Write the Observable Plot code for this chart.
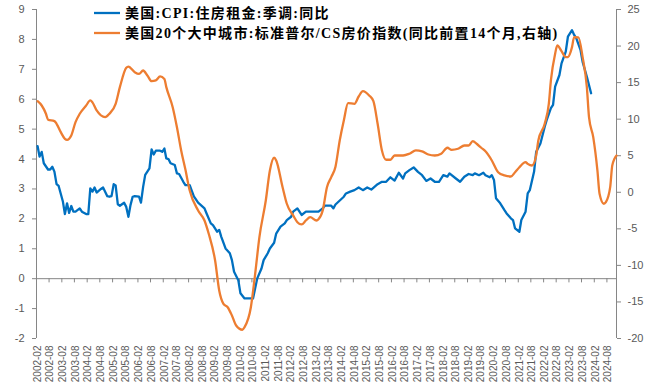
<!DOCTYPE html>
<html><head><meta charset="utf-8">
<script src="https://cdn.jsdelivr.net/npm/d3@7"></script>
<script src="https://cdn.jsdelivr.net/npm/@observablehq/plot@0.6"></script>
<style>body{margin:0;background:#fff} svg{display:block}</style>
</head><body><div id="chart"></div>
<script>
const seriesNames = ["美国:CPI:住房租金:季调:同比", "美国20个大中城市:标准普尔/CS房价指数(同比前置14个月,右轴)"];
const seriesColors = ["#0070C0", "#ED7D31"];

const rentDates = ["2002-02","2002-03","2002-04","2002-05","2002-07","2002-08","2002-09","2002-10","2002-11","2002-12",
"2003-02","2003-03","2003-04","2003-05","2003-06","2003-07","2003-08","2003-10","2003-11","2004-01","2004-02","2004-03","2004-04","2004-05","2004-06","2004-08","2004-09","2004-11","2004-12",
"2005-01","2005-02","2005-03","2005-04","2005-05","2005-07","2005-08","2005-09","2005-10","2005-11","2005-12",
"2006-02","2006-03","2006-04","2006-05","2006-07","2006-08","2006-09","2006-10","2006-12",
"2007-01","2007-02","2007-03","2007-04","2007-05","2007-07","2007-08","2007-09","2007-11","2007-12",
"2008-01","2008-02","2008-03","2008-04","2008-06","2008-09","2008-10","2008-12",
"2009-01","2009-03","2009-04","2009-05","2009-07","2009-09","2009-10","2009-11",
"2010-01","2010-02","2010-04","2010-06","2010-08","2010-09","2010-10","2010-12",
"2011-01","2011-03","2011-04","2011-06","2011-07","2011-09","2011-11","2011-12",
"2012-02","2012-03","2012-05","2012-07","2012-09","2012-12","2013-03","2013-05","2013-06","2013-09","2013-10","2013-11",
"2014-03","2014-04","2014-06","2014-08","2014-10","2014-12","2015-02","2015-04","2015-07","2015-09","2015-11",
"2016-01","2016-03","2016-05","2016-07","2016-08","2016-10","2016-12","2017-02","2017-04","2017-06","2017-08","2017-10","2017-12",
"2018-02","2018-04","2018-05","2018-08","2018-10","2018-12","2019-02","2019-04","2019-05","2019-07","2019-09","2019-10","2019-12",
"2020-01","2020-02","2020-03","2020-05","2020-07","2020-08","2020-10","2020-11","2020-12",
"2021-02","2021-03","2021-05","2021-06","2021-07","2021-09","2021-10","2021-12",
"2022-02","2022-03","2022-05","2022-06","2022-07","2022-09","2022-10","2022-12",
"2023-01","2023-03","2023-04","2023-05","2023-07","2023-08","2023-10","2023-12"];
const rentValues = [4.43,4.08,4.24,3.86,3.65,3.65,3.74,3.58,3.16,3.10,
2.57,2.16,2.52,2.20,2.43,2.24,2.24,2.35,2.24,2.16,2.16,3.02,2.91,3.05,2.88,3.00,3.05,2.76,2.74,
2.76,3.16,3.12,2.49,2.44,2.54,2.40,2.07,2.46,2.74,2.76,
2.74,2.54,3.07,3.47,3.69,4.32,4.15,4.28,4.28,
4.24,4.35,4.02,4.00,3.86,3.80,3.52,3.50,3.24,3.13,
3.13,3.13,2.94,2.75,2.54,2.35,2.18,1.85,
1.79,1.57,1.63,1.40,1.01,0.85,0.62,0.23,
-0.05,-0.49,-0.66,-0.66,-0.66,-0.32,0.01,0.34,
0.62,0.85,1.01,1.20,1.51,1.74,1.85,1.96,
2.07,2.24,2.35,2.13,2.24,2.24,2.24,2.35,2.44,2.44,2.35,2.48,
2.74,2.85,2.91,2.96,3.05,2.96,3.05,2.98,3.16,3.24,3.24,
3.39,3.28,3.54,3.35,3.52,3.63,3.72,3.57,3.46,3.27,3.35,3.24,3.24,
3.46,3.41,3.52,3.35,3.24,3.41,3.50,3.46,3.52,3.46,3.54,3.46,3.39,
3.46,3.30,2.69,2.52,2.29,2.18,2.02,1.96,1.68,
1.57,1.96,2.24,2.85,2.96,3.58,4.24,4.52,
5.08,5.30,5.70,5.81,6.42,6.81,7.20,7.59,
8.09,8.31,8.15,8.04,7.65,7.25,6.75,6.20];

const hpiDates = ["2002-02","2002-04","2002-06","2002-07","2002-10","2002-11","2003-01","2003-03","2003-04","2003-06","2003-08","2003-10",
"2004-01","2004-03","2004-04","2004-06","2004-10","2004-12","2005-03","2005-05","2005-08","2005-09","2005-12",
"2006-02","2006-04","2006-06","2006-08","2006-10","2006-12","2007-02","2007-03","2007-06","2007-08","2007-10","2007-12",
"2008-02","2008-06","2008-09","2008-11","2009-02","2009-04","2009-06","2009-08","2009-10","2009-12",
"2010-03","2010-04","2010-07","2010-09","2010-11","2011-02","2011-04","2011-06","2011-07","2011-10","2011-12",
"2012-03","2012-05","2012-07","2012-09","2012-11","2013-02","2013-03","2013-05","2013-07","2013-09","2013-11",
"2014-01","2014-03","2014-05","2014-08","2014-10","2014-12","2015-03","2015-05","2015-07","2015-09","2015-11",
"2016-01","2016-03","2016-07","2016-10","2017-01","2017-04","2017-07","2017-10","2018-01","2018-04","2018-06","2018-09","2018-12",
"2019-02","2019-04","2019-06","2019-08","2019-10","2020-01","2020-04","2020-07","2020-10","2020-12",
"2021-02","2021-05","2021-06","2021-08","2021-10","2021-11","2022-02","2022-04","2022-05","2022-07","2022-08","2022-10","2022-12",
"2023-01","2023-03","2023-04","2023-06","2023-08","2023-10","2023-11","2024-01","2024-03","2024-04","2024-06","2024-07","2024-09","2024-10","2024-12"];
const hpiValues = [12.46,11.87,10.74,9.92,9.73,9.37,8.22,7.32,7.18,7.77,9.59,10.74,
11.87,12.56,12.30,11.19,10.27,10.74,12.10,14.38,17.03,17.20,16.43,
16.20,16.66,15.98,15.20,15.30,15.84,15.50,14.38,11.64,8.90,5.72,3.10,
0.25,-2.49,-3.86,-5.68,-9.33,-13.43,-15.25,-15.72,-16.85,-18.22,
-18.80,-18.45,-15.72,-11.15,-6.14,-1.12,2.98,4.72,4.35,0.70,-1.57,
-3.17,-4.09,-4.40,-3.86,-3.40,-3.86,-3.70,-2.49,0.70,2.07,3.50,
7.09,9.82,12.19,12.10,13.10,13.83,13.24,12.46,9.37,5.72,4.45,
4.45,5.03,5.03,5.27,5.72,5.60,5.17,5.03,5.27,6.09,5.80,5.95,6.40,
6.40,7.00,6.60,6.09,5.60,4.35,2.75,2.30,2.16,2.75,
3.43,4.12,3.89,3.66,5.03,7.09,9.37,12.10,15.29,18.95,20.08,19.30,18.48,
18.50,19.85,21.22,21.20,18.48,14.38,10.27,7.54,2.98,-0.20,-1.57,-1.35,0.70,3.66,5.03];

const xTickLabels = ["2002-02","2002-08","2003-02","2003-08","2004-02","2004-08","2005-02","2005-08","2006-02","2006-08",
"2007-02","2007-08","2008-02","2008-08","2009-02","2009-08","2010-02","2010-08","2011-02","2011-08",
"2012-02","2012-08","2013-02","2013-08","2014-02","2014-08","2015-02","2015-08","2016-02","2016-08",
"2017-02","2017-08","2018-02","2018-08","2019-02","2019-08","2020-02","2020-08","2021-02","2021-08",
"2022-02","2022-08","2023-02","2023-08","2024-02","2024-08"];
const leftTicks = [-2,-1,0,1,2,3,4,5,6,7,8,9];
const rightTicks = [-20,-15,-10,-5,0,5,10,15,20,25];

const parse = d3.utcParse("%Y-%m");
const L0 = -2, L1 = 9, R0 = -20, R1 = 25;
const toLeft = v => L0 + (v - R0) * (L1 - L0) / (R1 - R0);
const fromLeft = v => R0 + (v - L0) * (R1 - R0) / (L1 - L0);

const rent = rentDates.map((d, i) => ({date: parse(d), value: rentValues[i]}));
const hpi = hpiDates.map((d, i) => ({date: parse(d), value: toLeft(hpiValues[i])}));
const tickDates = xTickLabels.map(parse);
const domainX = [d3.utcDay.offset(tickDates[0], -16), d3.utcMonth.offset(tickDates[tickDates.length - 1], 4)];
const bounds = tickDates.map(t => d3.utcDay.offset(d3.utcMonth.offset(t, 5), 15)).filter(d => d < domainX[1]);

const axisGray = "#868686";
const textGray = "#595959";

const chart = Plot.plot({
  width: 664, height: 387,
  marginLeft: 36, marginRight: 48, marginTop: 9, marginBottom: 49,
  style: {fontFamily: "'Liberation Sans', Arial, sans-serif", background: "#fff"},
  x: {type: "utc", domain: domainX},
  y: {domain: [L0, L1]},
  marks: [
    Plot.ruleX([domainX[0], domainX[1]], {stroke: axisGray, strokeWidth: 1}),
    Plot.ruleY([0], {stroke: axisGray, strokeWidth: 1}),
    Plot.ruleX(bounds, {x: d => d, y1: 0, y2: -0.14, stroke: axisGray}),
    Plot.axisY(leftTicks, {anchor: "left", tickSize: 4, tickPadding: 8, stroke: axisGray, fill: textGray, fontSize: 11, label: null, tickFormat: d => String(d)}),
    Plot.axisY(rightTicks.map(toLeft), {anchor: "right", tickSize: 4, tickPadding: 7, stroke: axisGray, fill: textGray, fontSize: 11, label: null, tickFormat: d => String(Math.round(fromLeft(d)))}),
    Plot.axisX(tickDates, {anchor: "bottom", tickSize: 0, tickPadding: 7, tickRotate: -90, fill: textGray, fontSize: 10, label: null, tickFormat: d3.utcFormat("%Y-%m")}),
    Plot.line(rent, {x: "date", y: "value", stroke: seriesColors[0], strokeWidth: 2.3}),
    Plot.line(hpi, {x: "date", y: "value", stroke: seriesColors[1], strokeWidth: 2.3, curve: "monotone-x"})
  ]
});

const svg = d3.select(chart);
const leg = svg.append("g")
  .attr("font-family", "'Liberation Serif', 'Noto Sans CJK SC', serif")
  .attr("font-weight", "bold").attr("font-size", 14)
  .attr("text-anchor", "start").attr("letter-spacing", "1.3px");
seriesNames.forEach((name, i) => {
  const y = 13 + i * 20;
  leg.append("line").attr("x1", 94).attr("x2", 120).attr("y1", y).attr("y2", y).attr("stroke", seriesColors[i]).attr("stroke-width", 2.3);
  leg.append("text").attr("x", 125).attr("y", y).attr("dy", "0.35em").attr("fill", "#000").text(name);
});
document.getElementById("chart").appendChild(chart);
</script>
</body></html>
